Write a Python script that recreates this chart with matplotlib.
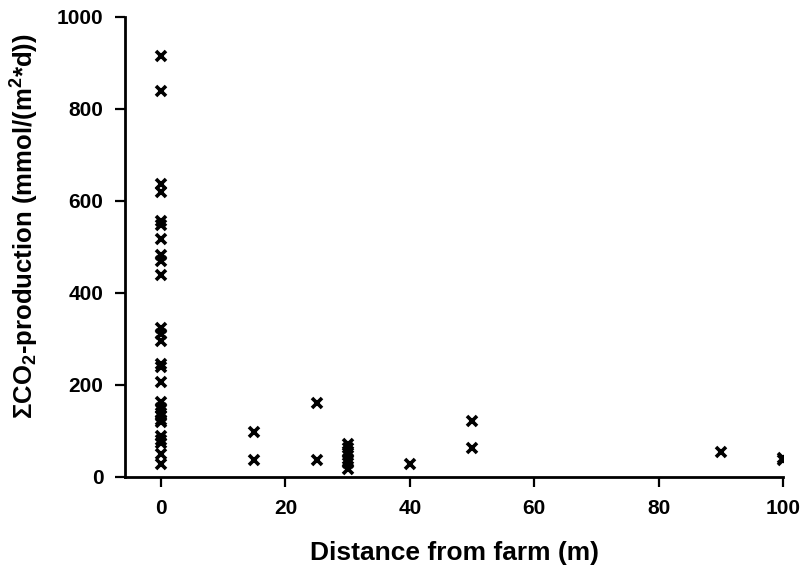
import matplotlib
matplotlib.use("Agg")
import matplotlib.pyplot as plt

plt.rcParams['font.family'] = ['Liberation Sans', 'DejaVu Sans']
plt.rcParams['font.weight'] = 'bold'
plt.rcParams['mathtext.fontset'] = 'custom'
plt.rcParams['mathtext.rm'] = 'Liberation Sans:bold'
plt.rcParams['mathtext.it'] = 'Liberation Sans:bold:italic'
plt.rcParams['mathtext.bf'] = 'Liberation Sans:bold'

# Data
dist_0 = [0] * 27
prod_0 = [915, 840, 638, 620, 557, 548, 518, 482, 470, 440, 325, 310, 295,
          245, 240, 207, 162, 150, 140, 132, 125, 120, 90, 80, 75, 50, 28]
dist_other = [15, 15, 25, 25, 30, 30, 30, 30, 30, 30, 40, 50, 50, 90, 100, 100]
prod_other = [98, 38, 160, 38, 72, 62, 52, 40, 30, 18, 28, 122, 63, 55, 42, 36]

x_vals = dist_0 + dist_other
y_vals = prod_0 + prod_other

x_ticks = [0, 20, 40, 60, 80, 100]
y_ticks = [0, 200, 400, 600, 800, 1000]

fig = plt.figure(figsize=(8.03, 5.74), dpi=100)
ax = fig.add_axes([125 / 803, 1 - 477 / 574, (783 - 125) / 803, (477 - 17) / 574])

ax.plot(x_vals, y_vals, linestyle='none', marker='x', color='black',
        markersize=7.5, markeredgewidth=2.6)

ax.set_xlim(-5.8, 100)
ax.set_ylim(0, 1000)
ax.set_xticks(x_ticks)
ax.set_yticks(y_ticks)
ax.spines['top'].set_visible(False)
ax.spines['right'].set_visible(False)
for s in ['left', 'bottom']:
    ax.spines[s].set_linewidth(2)
ax.tick_params(axis='both', direction='out', length=7.5, width=1.6,
               labelsize=15, pad=8)
for lab in ax.get_xticklabels() + ax.get_yticklabels():
    lab.set_fontweight('bold')

ax.set_xlabel('Distance from farm (m)', fontsize=19, fontweight='bold', labelpad=17)
ax.set_ylabel('ΣCO$_2$-production (mmol/(m$^2$*d))', fontsize=18.5,
              fontweight='bold')
ax.yaxis.set_label_coords(-0.128, 0.545)

fig.savefig('out.png', dpi=100)
